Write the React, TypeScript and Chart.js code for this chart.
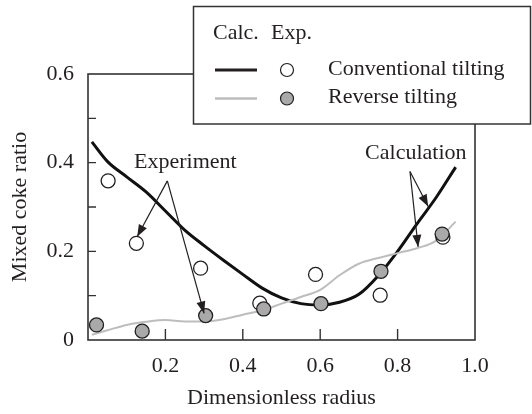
import { useEffect, useRef } from 'react';
import { Chart, registerables } from 'chart.js';

Chart.register(...registerables);

// Calculated profiles, sampled along the dimensionless radius
const calcRadius = [0.01, 0.05, 0.1, 0.15, 0.2, 0.25, 0.3, 0.35, 0.4, 0.45, 0.5, 0.55, 0.6, 0.65, 0.7, 0.75, 0.8, 0.85, 0.9, 0.95];
const conventionalCalc = [0.447, 0.403, 0.368, 0.334, 0.291, 0.248, 0.213, 0.18, 0.148, 0.117, 0.095, 0.082, 0.079, 0.085, 0.103, 0.145, 0.2, 0.262, 0.322, 0.39];
const reverseCalc = [0.012, 0.022, 0.034, 0.041, 0.045, 0.042, 0.042, 0.047, 0.057, 0.067, 0.082, 0.097, 0.113, 0.146, 0.172, 0.185, 0.196, 0.207, 0.224, 0.267];

// Measured values
const conventionalExpRadius = [0.052, 0.125, 0.291, 0.444, 0.588, 0.755, 0.917];
const conventionalExp = [0.359, 0.218, 0.162, 0.083, 0.148, 0.101, 0.232];
const reverseExpRadius = [0.022, 0.14, 0.304, 0.454, 0.602, 0.757, 0.915];
const reverseExp = [0.034, 0.02, 0.055, 0.07, 0.082, 0.155, 0.239];

// Axis ticks
const xTickValues = [0.2, 0.4, 0.6, 0.8, 1.0];
const xTickLabels = ['0.2', '0.4', '0.6', '0.8', '1.0'];
const yTickValues = [0, 0.1, 0.2, 0.3, 0.4, 0.5, 0.6];
const yTickLabels = ['0', '', '0.2', '', '0.4', '', '0.6'];

const seriesNames = ['Conventional tilting', 'Reverse tilting'];

const FONT = "'Liberation Serif', 'Times New Roman', serif";
const INK = '#231f20';
const GREY_FILL = '#a9a9a9';
const GREY_LINE = '#bdbdbd';

// Callout arrows, in data units: label anchor, apex, and arrow tips
const callouts = [
  { text: 'Experiment', labelAt: [0.119, 0.402], apex: [0.205, 0.359], tips: [[0.127, 0.233], [0.3, 0.06]] },
  { text: 'Calculation', labelAt: [0.716, 0.422], apex: [0.832, 0.38], tips: [[0.879, 0.301], [0.853, 0.21]] },
];

const toPoints = (xs: number[], ys: number[]) => xs.map((x, i) => ({ x, y: ys[i] }));

function drawArrow(ctx: CanvasRenderingContext2D, x0: number, y0: number, x1: number, y1: number) {
  ctx.beginPath();
  ctx.moveTo(x0, y0);
  ctx.lineTo(x1, y1);
  ctx.stroke();
  const a = Math.atan2(y1 - y0, x1 - x0);
  const L = 12;
  const W = 4.5;
  ctx.beginPath();
  ctx.moveTo(x1, y1);
  ctx.lineTo(x1 - L * Math.cos(a) + W * Math.sin(a), y1 - L * Math.sin(a) - W * Math.cos(a));
  ctx.lineTo(x1 - L * Math.cos(a) - W * Math.sin(a), y1 - L * Math.sin(a) + W * Math.cos(a));
  ctx.closePath();
  ctx.fill();
}

const decorPlugin = {
  id: 'decor',
  afterDraw(chart: any) {
    const { ctx, chartArea } = chart;
    const xs = chart.scales.x;
    const ys = chart.scales.y;
    const { left, right, top, bottom } = chartArea;

    ctx.save();
    // callouts
    ctx.strokeStyle = INK;
    ctx.fillStyle = INK;
    ctx.lineWidth = 1.2;
    ctx.font = `22px ${FONT}`;
    ctx.textAlign = 'left';
    ctx.textBaseline = 'middle';
    for (const c of callouts) {
      ctx.fillText(c.text, xs.getPixelForValue(c.labelAt[0]), ys.getPixelForValue(c.labelAt[1]));
      const ax = xs.getPixelForValue(c.apex[0]);
      const ay = ys.getPixelForValue(c.apex[1]);
      for (const t of c.tips) {
        drawArrow(ctx, ax, ay, xs.getPixelForValue(t[0]), ys.getPixelForValue(t[1]));
      }
    }

    // plot frame with inward ticks
    ctx.strokeStyle = '#333';
    ctx.lineWidth = 1.6;
    ctx.strokeRect(left, top, right - left, bottom - top);
    ctx.lineWidth = 1.4;
    ctx.beginPath();
    for (const v of xTickValues) {
      const px = xs.getPixelForValue(v);
      if (px > left + 1 && px < right - 1) {
        ctx.moveTo(px, bottom);
        ctx.lineTo(px, bottom - 11);
      }
    }
    for (const v of yTickValues) {
      const py = ys.getPixelForValue(v);
      if (py > top + 1 && py < bottom - 1) {
        ctx.moveTo(left, py);
        ctx.lineTo(left + 8, py);
      }
    }
    ctx.stroke();

    // legend box
    const bx = 193.5, by = 6.5, bw = 337, bh = 117.5;
    ctx.fillStyle = '#fff';
    ctx.fillRect(bx, by, bw, bh);
    ctx.strokeStyle = '#333';
    ctx.lineWidth = 1.5;
    ctx.strokeRect(bx, by, bw, bh);

    ctx.fillStyle = INK;
    ctx.font = `22px ${FONT}`;
    ctx.textBaseline = 'middle';
    ctx.fillText('Calc.', 213, 33);
    ctx.fillText('Exp.', 271, 33);

    const rows = [
      { y: 69, line: INK, lw: 3, fill: '#fff', name: chart.data.datasets[2].label },
      { y: 97.5, line: GREY_LINE, lw: 2.5, fill: GREY_FILL, name: chart.data.datasets[3].label },
    ];
    for (const r of rows) {
      ctx.strokeStyle = r.line;
      ctx.lineWidth = r.lw;
      ctx.beginPath();
      ctx.moveTo(215, r.y + 1);
      ctx.lineTo(257, r.y + 1);
      ctx.stroke();
      ctx.beginPath();
      ctx.arc(287, r.y + 1, 6.5, 0, Math.PI * 2);
      ctx.fillStyle = r.fill;
      ctx.fill();
      ctx.strokeStyle = INK;
      ctx.lineWidth = 1.2;
      ctx.stroke();
      ctx.fillStyle = INK;
      ctx.fillText(r.name, 328, r.y);
    }
    ctx.restore();
  },
};

export default function App() {
  const canvasRef = useRef<HTMLCanvasElement | null>(null);

  useEffect(() => {
    const canvas = canvasRef.current;
    if (!canvas) return;
    const font = { family: FONT, size: 22 };

    const chart = new Chart(canvas, {
      type: 'scatter',
      data: {
        datasets: [
          {
            label: 'Conventional tilting (calc.)',
            data: toPoints(calcRadius, conventionalCalc),
            showLine: true,
            borderColor: '#111',
            borderWidth: 3,
            pointRadius: 0,
            cubicInterpolationMode: 'monotone',
            order: 4,
          },
          {
            label: 'Reverse tilting (calc.)',
            data: toPoints(calcRadius, reverseCalc),
            showLine: true,
            borderColor: GREY_LINE,
            borderWidth: 2,
            pointRadius: 0,
            cubicInterpolationMode: 'monotone',
            order: 3,
          },
          {
            label: seriesNames[0],
            data: toPoints(conventionalExpRadius, conventionalExp),
            showLine: false,
            pointRadius: 7,
            pointBackgroundColor: '#fff',
            pointBorderColor: INK,
            pointBorderWidth: 1.3,
            order: 2,
          },
          {
            label: seriesNames[1],
            data: toPoints(reverseExpRadius, reverseExp),
            showLine: false,
            pointRadius: 7,
            pointBackgroundColor: GREY_FILL,
            pointBorderColor: INK,
            pointBorderWidth: 1.3,
            order: 1,
          },
        ],
      },
      options: {
        responsive: false,
        animation: false,
        events: [],
        layout: { padding: { left: 0, top: 74, right: 57, bottom: 0 } },
        plugins: {
          legend: { display: false },
          tooltip: { enabled: false },
        },
        scales: {
          x: {
            type: 'linear',
            min: 0,
            max: 1,
            border: { display: false },
            grid: { display: false, drawTicks: false },
            afterBuildTicks: (s: any) => {
              s.ticks = xTickValues.map((v) => ({ value: v }));
            },
            afterFit: (s: any) => {
              s.height = 74;
            },
            ticks: {
              autoSkip: false,
              maxRotation: 0,
              padding: 13,
              font,
              color: INK,
              callback: (v: any) => {
                const i = xTickValues.findIndex((t) => Math.abs(t - v) < 1e-9);
                return i >= 0 ? xTickLabels[i] : '';
              },
            },
            title: {
              display: true,
              text: 'Dimensionless radius',
              font,
              color: INK,
              padding: { top: 0, bottom: 3 },
            },
          },
          y: {
            type: 'linear',
            min: 0,
            max: 0.6,
            border: { display: false },
            grid: { display: false, drawTicks: false },
            afterBuildTicks: (s: any) => {
              s.ticks = yTickValues.map((v) => ({ value: v }));
            },
            afterFit: (s: any) => {
              s.width = 88;
            },
            ticks: {
              autoSkip: false,
              padding: 14,
              font,
              color: INK,
              callback: (v: any) => {
                const i = yTickValues.findIndex((t) => Math.abs(t - v) < 1e-9);
                return i >= 0 ? yTickLabels[i] : '';
              },
            },
            title: {
              display: true,
              text: 'Mixed coke ratio',
              font,
              color: INK,
              padding: { top: 7, bottom: 0 },
            },
          },
        },
      },
      plugins: [decorPlugin],
    } as any);

    return () => chart.destroy();
  }, []);

  return (
    <div style={{ position: 'absolute', left: 0, top: 0, width: 532, height: 414, background: '#fff' }}>
      <canvas ref={canvasRef} width={532} height={414} style={{ display: 'block' }} />
    </div>
  );
}
